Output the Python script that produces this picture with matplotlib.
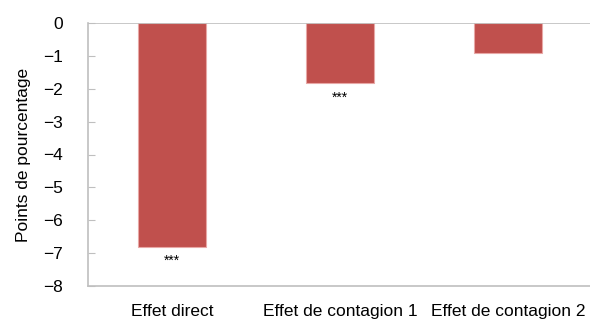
import numpy as np
import matplotlib.pyplot as plt

plt.rcParams['font.family'] = ['Liberation Sans', 'DejaVu Sans']

# estimated effects, in percentage points
effets = ["Effet direct", "Effet de contagion 1", "Effet de contagion 2"]
valeurs = [-6.8, -1.83, -0.92]
signif = ["***", "***", ""]

fig = plt.figure(figsize=(5.9, 3.2), dpi=100)
ax = fig.add_axes([88 / 590, 34 / 320, 504 / 590, 263 / 320])

x = np.arange(len(effets))
ax.bar(x, valeurs, width=0.4, color="#C0504D", edgecolor="#E8A8A6", linewidth=0.8, zorder=2)

for xi, v, s in zip(x, valeurs, signif):
    if s:
        ax.text(xi, v - 0.22, s, ha="center", va="top", fontsize=10, color="black")

ax.set_xlim(-0.5, 2.5)
ax.set_ylim(-8, 0)
ax.set_yticks(range(-8, 1))
ax.set_yticklabels([("\u2212%d" % -t) if t < 0 else "0" for t in range(-8, 1)])
ax.set_xticks(x)
ax.set_xticklabels(effets)

ax.axhline(0, color="#BFBFBF", linewidth=1.2, zorder=3)
for side in ["top", "right"]:
    ax.spines[side].set_visible(False)
for side in ["left", "bottom"]:
    ax.spines[side].set_color("#BFBFBF")
    ax.spines[side].set_linewidth(1.2)

ax.tick_params(axis="y", direction="in", length=5, color="#BFBFBF", labelsize=12.5, pad=18)
ax.tick_params(axis="x", length=0, labelsize=12.5, pad=13)
ax.set_ylabel("Points de pourcentage", fontsize=12.5, labelpad=9)

fig.savefig("out.png", dpi=100)
